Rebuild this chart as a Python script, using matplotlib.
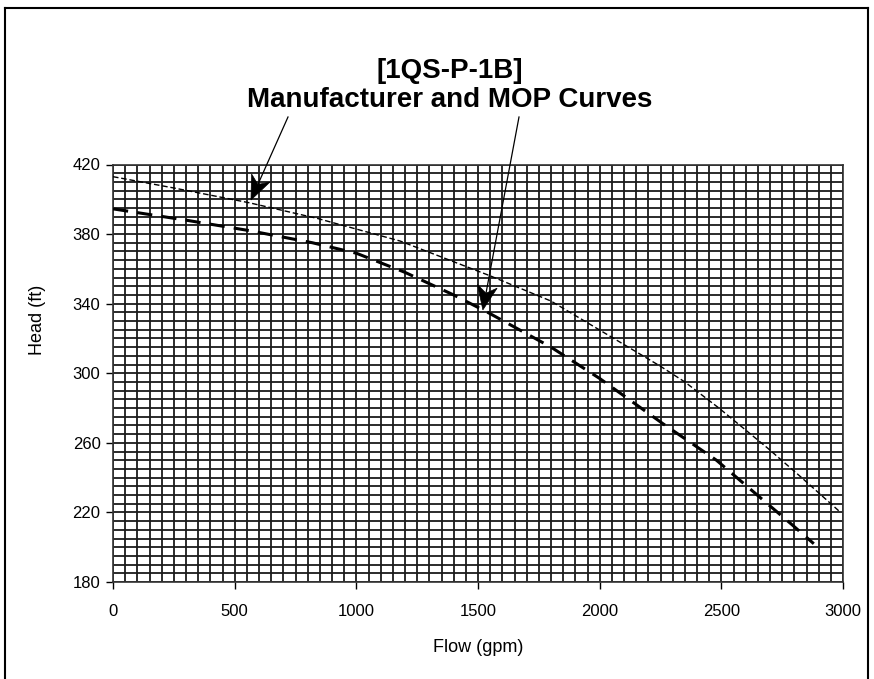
import matplotlib
matplotlib.use("Agg")
import matplotlib.pyplot as plt
from matplotlib.lines import Line2D
from matplotlib.patches import Polygon
import numpy as np

# Data
mfr_flow = [0, 250, 560, 840, 1180, 1550, 1800, 2070, 2250, 2350, 2490, 2690, 2830, 2990]
mfr_head = [413, 406.5, 398, 389, 376, 356, 341.5, 319, 304, 295, 280, 257, 240, 220]
mop_flow = [0, 300, 560, 820, 1000, 1200, 1400, 1540, 1800, 2000, 2260, 2480, 2660, 2790, 2880]
mop_head = [394.5, 388, 382, 375, 369, 358, 345, 335, 315, 297, 271, 250, 228.5, 213, 202]
x_ticks = [0, 500, 1000, 1500, 2000, 2500, 3000]
y_ticks = [180, 220, 260, 300, 340, 380, 420]
title_lines = ["[1QS-P-1B]", "Manufacturer and MOP Curves"]
arrow_targets = [(567, 399.6), (1520, 336.4)]

plt.rcParams['font.family'] = ['Liberation Sans', 'DejaVu Sans']

W, H = 874, 679
fig = plt.figure(figsize=(W/100, H/100), dpi=100)
L, R, T, B = 113, 843, 164.5, 582
ax = fig.add_axes([L/W, 1 - B/H, (R-L)/W, (B-T)/H])
ax.set_xlim(0, 3000)
ax.set_ylim(180, 420)

# grid
ax.set_xticks(np.arange(0, 3001, 50), minor=True)
ax.set_yticks(np.arange(180, 421, 5), minor=True)
ax.grid(which='both', color='#1a1a1a', linewidth=1.3)
ax.set_axisbelow(True)
ax.tick_params(which='minor', length=0)
ax.set_xticks(x_ticks)
ax.set_yticks(y_ticks)
ax.tick_params(which='major', direction='out', length=5, width=1, color='black',
               labelsize=12)
ax.tick_params(axis='x', pad=11)
ax.tick_params(axis='y', pad=4)
for s in ax.spines.values():
    s.set_color('#333333')
    s.set_linewidth(1.2)

ax.plot(mfr_flow, mfr_head, color='black', linewidth=1.0, linestyle=(0, (4, 2)), zorder=3)
ax.plot(mop_flow, mop_head, color='black', linewidth=2.2, linestyle=(0, (5, 3)), zorder=3)

fig.text(478/W, 1 - 648/H, "Flow (gpm)", ha='center', va='center', fontsize=13)
fig.text(38/W, 1 - 320/H, "Head (ft)", ha='center', va='center', fontsize=13, rotation=90)

# title
fig.text(450/W, 1 - 71/H, title_lines[0], ha='center', va='center', fontsize=20, fontweight='bold')
fig.text(450/W, 1 - 100/H, title_lines[1], ha='center', va='center', fontsize=20, fontweight='bold')

# arrows with notched heads
tails = [(288, 117), (519, 117)]
fig.canvas.draw()
for (tx, ty), (dx, dy) in zip(tails, arrow_targets):
    px, py = ax.transData.transform((dx, dy))
    tail = np.array([tx, H - ty], dtype=float)
    tip = np.array([px, py])
    d = tip - tail
    d /= np.hypot(*d)
    n = np.array([-d[1], d[0]])
    hl, hw, notch = 24, 10, 7
    base = tip - d * hl
    pts = [tip, base + n * hw, tip - d * (hl - notch), base - n * hw]
    neck = tip - d * (hl - notch)
    fig.add_artist(Line2D([tail[0]/W, neck[0]/W], [tail[1]/H, neck[1]/H], color='black',
                          linewidth=0.9, transform=fig.transFigure, zorder=6))
    fig.add_artist(Polygon([(p[0]/W, p[1]/H) for p in pts], closed=True, facecolor='black',
                           edgecolor='black', linewidth=0.5, transform=fig.transFigure, zorder=6))

# frame around figure
for (x0, y0, x1, y1) in [(5, 8, 5, H + 5), (5, 8, 868, 8), (868, 8, 868, H + 5)]:
    fig.add_artist(Line2D([x0/W, x1/W], [1 - y0/H, 1 - y1/H], color='black', linewidth=1.5,
                          transform=fig.transFigure))

fig.savefig("out.png", dpi=100)
